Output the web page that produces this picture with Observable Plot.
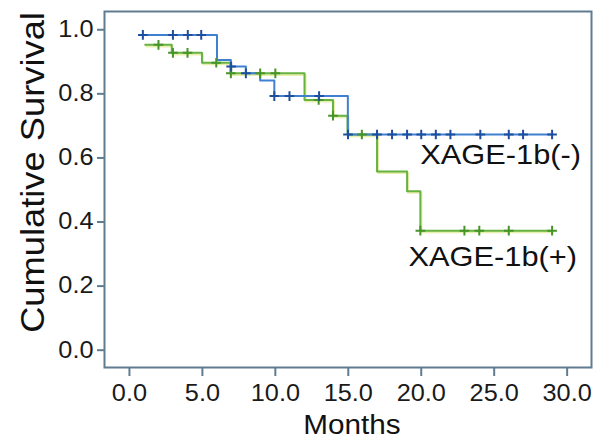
<!DOCTYPE html>
<html><head><meta charset="utf-8">
<script src="https://cdn.jsdelivr.net/npm/d3@7"></script>
<script src="https://cdn.jsdelivr.net/npm/@observablehq/plot@0.6"></script>
<style>body{margin:0;background:#fff} svg{display:block}</style>
</head><body><div id="chart"></div>
<script>
// ---- data ----
const xTicks = [0, 5, 10, 15, 20, 25, 30];
const yTicks = [0, 0.2, 0.4, 0.6, 0.8, 1.0];
const xLabel = "Months";
const yLabel = "Cumulative Survival";

const negName = "XAGE-1b(-)";
const negTimes = [0.92, 6.0, 6.95, 7.98, 8.96, 9.93, 14.97, 28.97];
const negSurv  = [0.984, 0.906, 0.885, 0.864, 0.842, 0.793, 0.673, 0.673];
const negCensor = [0.92, 2.98, 4.0, 4.92, 6.97, 7.98, 9.93, 10.97, 13.0, 14.98, 16.97, 18.0, 19.03, 20.0, 21.0, 22.0, 24.05, 26.0, 26.98, 28.97];

const posName = "XAGE-1b(+)";
const posTimes = [1.08, 2.9, 4.97, 6.92, 12.0, 13.95, 14.95, 16.97, 19.03, 19.94, 28.97];
const posSurv  = [0.953, 0.928, 0.897, 0.864, 0.781, 0.732, 0.673, 0.558, 0.496, 0.373, 0.373];
const posCensor = [1.99, 2.98, 3.98, 5.95, 6.95, 8.96, 10.0, 12.97, 13.95, 15.93, 19.94, 22.96, 23.98, 26.0, 28.97];

// ---- helpers ----
const steps = (times, surv) => times.map((t, i) => ({t, s: surv[i]}));
const survAt = (times, surv, t) => { let v = surv[0]; times.forEach((tt, i) => { if (tt <= t + 1e-9) v = surv[i]; }); return v; };
const censorPts = (c, times, surv) => c.map(t => ({t, s: survAt(times, surv, t)}));

const negSteps = steps(negTimes, negSurv);
const posSteps = steps(posTimes, posSurv);
const negMarks = censorPts(negCensor, negTimes, negSurv);
const posMarks = censorPts(posCensor, posTimes, posSurv);

const FRAME = "#5f7c91";
const BLUE = "#3f80d0", BLUE_D = "#1d4f9e";
const GREEN = "#67b243", GREEN_D = "#479428", GREEN_HALO = "#dde88a";

const chart = Plot.plot({
  width: 604, height: 440,
  marginLeft: 104, marginRight: 13, marginTop: 11, marginBottom: 73,
  style: {fontFamily: "'Liberation Sans', Arial, sans-serif", background: "#fff", color: "#1a1a1a"},
  x: {domain: [-1.71, 31.67]},
  y: {domain: [-0.054, 1.057]},
  marks: [
    Plot.frame({stroke: FRAME, strokeWidth: 2}),
    Plot.axisX({ticks: xTicks, tickFormat: d => d.toFixed(1), tickSize: 9, tickPadding: 8, fontSize: 23, label: null}),
    Plot.axisY({ticks: yTicks, tickFormat: d => d.toFixed(1), tickSize: 7, tickPadding: 4, fontSize: 23, label: null}),
    // green (+)
    Plot.line(posSteps, {x: "t", y: "s", curve: "step-after", stroke: GREEN_HALO, strokeWidth: 2.2, dx: 1, dy: 1.5, strokeOpacity: 0.7}),
    Plot.line(posSteps, {x: "t", y: "s", curve: "step-after", stroke: GREEN, strokeWidth: 2}),
    // blue (-)
    Plot.line(negSteps, {x: "t", y: "s", curve: "step-after", stroke: BLUE, strokeWidth: 2}),
    Plot.dot(posMarks, {x: "t", y: "s", symbol: "plus", r: 3.2, stroke: GREEN_D, strokeWidth: 2}),
    Plot.dot(negMarks, {x: "t", y: "s", symbol: "plus", r: 3.2, stroke: BLUE_D, strokeWidth: 2}),
    // series labels
    Plot.text([{t: negTimes.at(-1), s: negSurv.at(-1), label: negName}], {x: "t", y: "s", text: "label", textAnchor: "end", dx: 29, dy: 20, fontSize: 28, fill: "#111"}),
    Plot.text([{t: posTimes.at(-1), s: posSurv.at(-1), label: posName}], {x: "t", y: "s", text: "label", textAnchor: "end", dx: 25, dy: 26, fontSize: 28, fill: "#111"}),
    // axis titles
    Plot.text([xLabel], {frameAnchor: "bottom", textAnchor: "middle", text: d => d, dx: 4, dy: 66, fontSize: 27, fill: "#111"}),
    Plot.text([yLabel], {frameAnchor: "left", textAnchor: "middle", text: d => d, rotate: -90, dx: -71, dy: -17, fontSize: 33, fill: "#111", ariaLabel: "ylabel"})
  ]
});
document.getElementById("chart").appendChild(chart);

// colour the ticks like the frame and widen the lettering slightly, as in the reference
const svg = chart instanceof SVGSVGElement ? chart : chart.querySelector("svg");
svg.querySelectorAll('[aria-label="x-axis tick"], [aria-label="y-axis tick"]').forEach(g => {
  g.setAttribute("stroke", FRAME);
  g.setAttribute("stroke-width", "2");
});
svg.querySelectorAll("text").forEach(t => {
  if (t.closest('[aria-label="ylabel"]')) return;
  const len = t.getComputedTextLength();
  if (len > 0) {
    t.setAttribute("textLength", (len * 1.1).toFixed(2));
    t.setAttribute("lengthAdjust", "spacingAndGlyphs");
  }
});
</script>
</body></html>
